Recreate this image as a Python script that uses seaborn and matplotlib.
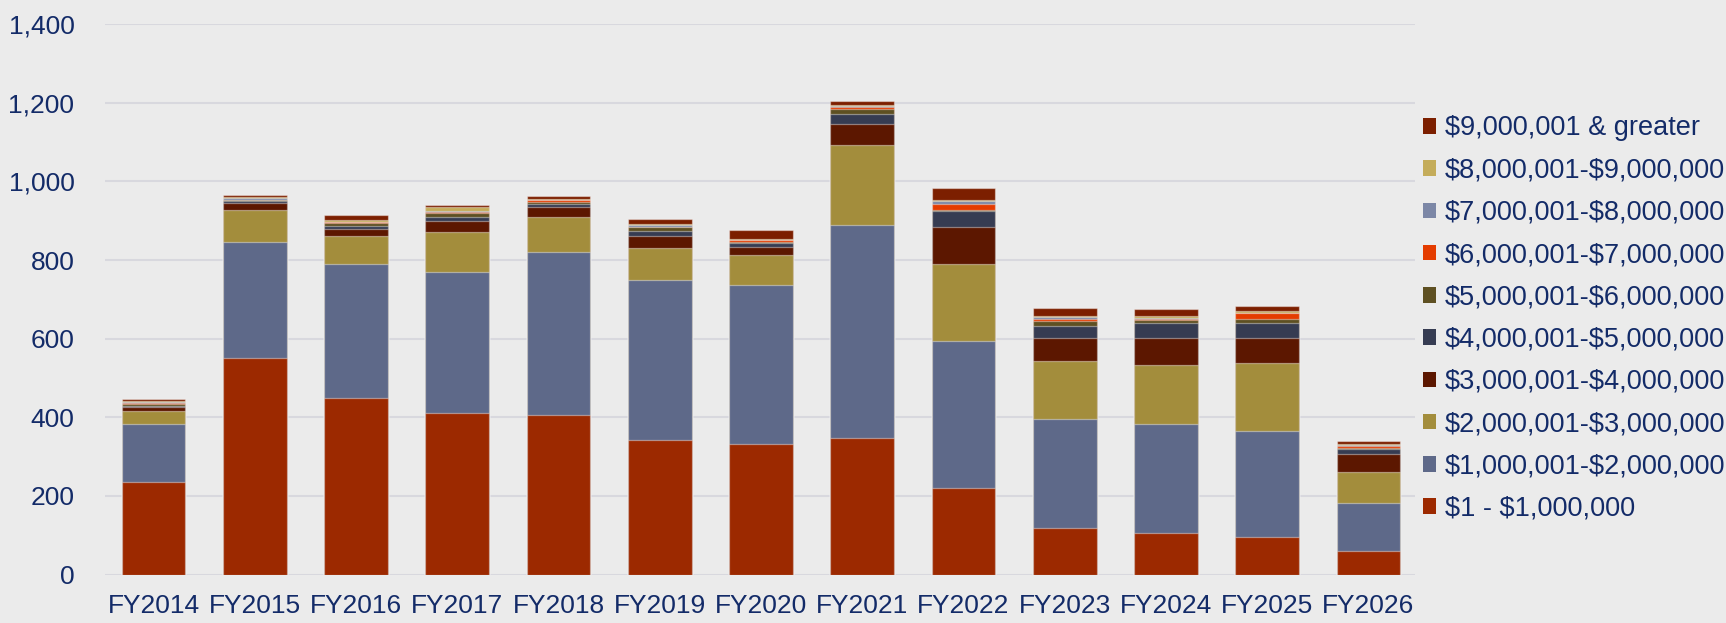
import numpy as np
import pandas as pd
import matplotlib
matplotlib.use("Agg")
import matplotlib.pyplot as plt
from matplotlib.patches import Patch
import seaborn as sns

years = ["FY2014", "FY2015", "FY2016", "FY2017", "FY2018", "FY2019", "FY2020",
         "FY2021", "FY2022", "FY2023", "FY2024", "FY2025", "FY2026"]

# counts per award-size bucket, bottom of the stack first
b_1m = [235, 552, 448, 412, 406, 342, 333, 347, 221, 118, 106, 95, 59]
b_2m = [148, 295, 342, 358, 415, 408, 403, 541, 373, 278, 277, 269, 123]
b_3m = [33, 80, 71, 101, 89, 80, 77, 205, 196, 148, 150, 174, 78]
b_4m = [10, 18, 17, 29, 25, 30, 20, 53, 93, 57, 70, 65, 48]
b_5m = [4, 5, 9, 10, 8, 13, 10, 25, 42, 32, 36, 36, 12]
b_6m = [4, 2, 7, 9, 5, 10, 3, 12, 3, 13, 8, 12, 3]
b_7m = [3, 2, 2, 3, 4, 1, 4, 7, 15, 3, 2, 14, 5]
b_8m = [2, 4, 2, 2, 2, 4, 1, 2, 7, 5, 4, 1, 2]
b_9m = [3, 3, 3, 12, 2, 4, 2, 3, 4, 3, 6, 5, 2]
b_9m_plus = [4, 5, 14, 5, 8, 13, 24, 10, 29, 22, 16, 13, 7]

labels = [r"\$1 - \$1,000,000", r"\$1,000,001-\$2,000,000", r"\$2,000,001-\$3,000,000",
          r"\$3,000,001-\$4,000,000", r"\$4,000,001-\$5,000,000", r"\$5,000,001-\$6,000,000",
          r"\$6,000,001-\$7,000,000", r"\$7,000,001-\$8,000,000", r"\$8,000,001-\$9,000,000",
          r"\$9,000,001 & greater"]
series = [b_1m, b_2m, b_3m, b_4m, b_5m, b_6m, b_7m, b_8m, b_9m, b_9m_plus]
colors = ["#9C2900", "#5E6989", "#A38D3C", "#5C1700", "#363C52",
          "#5E5022", "#E43C00", "#7C87A6", "#C4AC5A", "#7C1F00"]

bg = "#EBEBEB"
txt = "#132B68"

sns.set_theme(style="white", rc={"axes.facecolor": bg, "figure.facecolor": bg})
plt.rcParams["font.family"] = ["Liberation Sans", "DejaVu Sans"]

fig = plt.figure(figsize=(17.26, 6.23), dpi=100)
ax = fig.add_axes([0.0608, 0.0777, 0.759, 0.8835])

cum = np.cumsum(np.array(series), axis=0)
# draw tallest cumulative first so the lower layers sit on top
for i in range(len(series) - 1, -1, -1):
    df = pd.DataFrame({"year": years, "value": cum[i]})
    sns.barplot(data=df, x="year", y="value", color=colors[i], saturation=1,
                width=0.63, edgecolor=(1, 1, 1, 0.4), linewidth=0.9, ax=ax,
                zorder=3)

ax.set_ylim(0, 1400)
ax.set_xlim(-0.48, 12.46)
ax.set_yticks(range(0, 1401, 200))
ax.yaxis.set_major_formatter(matplotlib.ticker.FuncFormatter(lambda v, p: f"{int(v):,}"))
ax.grid(axis="y", color="#D8D8DE", linewidth=1.5, zorder=0)
ax.set_axisbelow(True)
for s in ax.spines.values():
    s.set_visible(False)
ax.set_xlabel("")
ax.set_ylabel("")
ax.tick_params(axis="y", length=0, pad=22, labelsize=19, labelcolor=txt)
ax.tick_params(axis="x", length=0, pad=14, labelsize=19, labelcolor=txt)

handles = [Patch(facecolor=c, edgecolor="none") for c in colors]
leg = fig.legend(handles[::-1], labels[::-1], loc="upper left",
                 bbox_to_anchor=(0.818, 0.832), frameon=False, fontsize=19.5,
                 labelcolor=txt, handlelength=0.5, handleheight=0.5,
                 handletextpad=0.32, labelspacing=0.6, borderaxespad=0)

fig.savefig("out.png", dpi=100, facecolor=bg)
